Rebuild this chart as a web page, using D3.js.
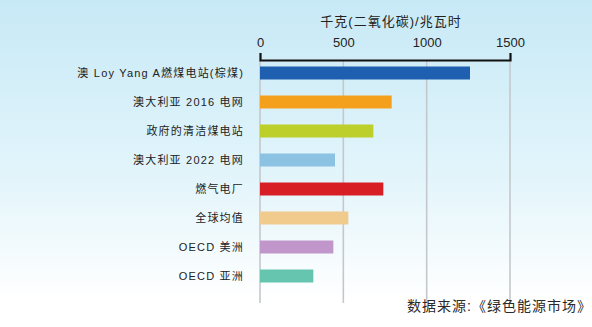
<!DOCTYPE html>
<html><head><meta charset="utf-8">
<script src="https://cdn.jsdelivr.net/npm/d3@7"></script>
<style>
html,body{margin:0;padding:0;background:#fff;}
svg{display:block;font-family:"Liberation Sans",Arial,"Noto Sans CJK SC",sans-serif;}
</style></head>
<body>
<svg id="chart" width="592" height="327"></svg>
<script>
const categories = ["澳 Loy Yang A燃煤电站(棕煤)","澳大利亚 2016 电网","政府的清洁煤电站","澳大利亚 2022 电网","燃气电厂","全球均值","OECD 美洲","OECD 亚洲"];
const values = [1260, 790, 680, 450, 740, 530, 440, 320];
const colors = ["#1f5fb0","#f5a01c","#bccf2b","#8dc3e2","#d81e25","#f1cb8e","#c196cb","#66c5ae"];
const tickValues = [0, 500, 1000, 1500];
const axisTitle = "千克(二氧化碳)/兆瓦时";
const sourceText = "数据来源:《绿色能源市场》";

const svg = d3.select("#chart");
const defs = svg.append("defs");
const grad = defs.append("linearGradient").attr("id","bg").attr("x1",0).attr("y1",0).attr("x2",0).attr("y2",1);
grad.append("stop").attr("offset","0%").attr("stop-color","#c7e9f6");
grad.append("stop").attr("offset","55%").attr("stop-color","#e3f5fb");
grad.append("stop").attr("offset","92%").attr("stop-color","#ffffff");
grad.append("stop").attr("offset","100%").attr("stop-color","#ffffff");
svg.append("rect").attr("width",592).attr("height",327).attr("fill","url(#bg)");

const x = d3.scaleLinear().domain([0,1500]).range([260,510]);
const y = d3.scaleBand().domain(categories).range([58.5,290.5]).paddingInner(0.552).paddingOuter(0.276);

// gridlines
svg.append("g").selectAll("line").data(tickValues).join("line")
  .attr("x1",d=>x(d)).attr("x2",d=>x(d)).attr("y1",60).attr("y2",303)
  .attr("stroke","#c4c8cc").attr("stroke-width",1.6);

// bars
svg.append("g").selectAll("rect").data(categories).join("rect")
  .attr("x",x(0)).attr("y",d=>y(d)).attr("height",y.bandwidth())
  .attr("width",(d,i)=>x(values[i])-x(0)).attr("fill",(d,i)=>colors[i]);

// axis
const axis = d3.axisTop(x).tickValues(tickValues).tickSizeInner(0).tickSizeOuter(7).tickPadding(13).tickFormat(d3.format("d"));
const ag = svg.append("g").attr("transform","translate(0,60)").call(axis);
ag.select(".domain").attr("stroke","#111").attr("stroke-width",2.2);
ag.selectAll(".tick text").attr("font-size",13).attr("fill","#222").attr("font-family","\"Liberation Sans\",Arial,sans-serif");

// axis title
svg.append("text").attr("x",391).attr("y",26).attr("text-anchor","middle")
  .attr("font-size",13).attr("letter-spacing",1).attr("fill","#222").text(axisTitle);

// category labels
svg.append("g").selectAll("text").data(categories).join("text")
  .attr("x",244).attr("y",d=>y(d)+y.bandwidth()/2).attr("dy","0.36em")
  .attr("text-anchor","end").attr("font-size",11).attr("letter-spacing",1.2)
  .attr("fill","#222").text(d=>d);

// source
svg.append("text").attr("x",592).attr("y",311).attr("text-anchor","end")
  .attr("font-size",14).attr("letter-spacing",1).attr("fill","#2a2a2a").text(sourceText);
</script>
</body></html>
